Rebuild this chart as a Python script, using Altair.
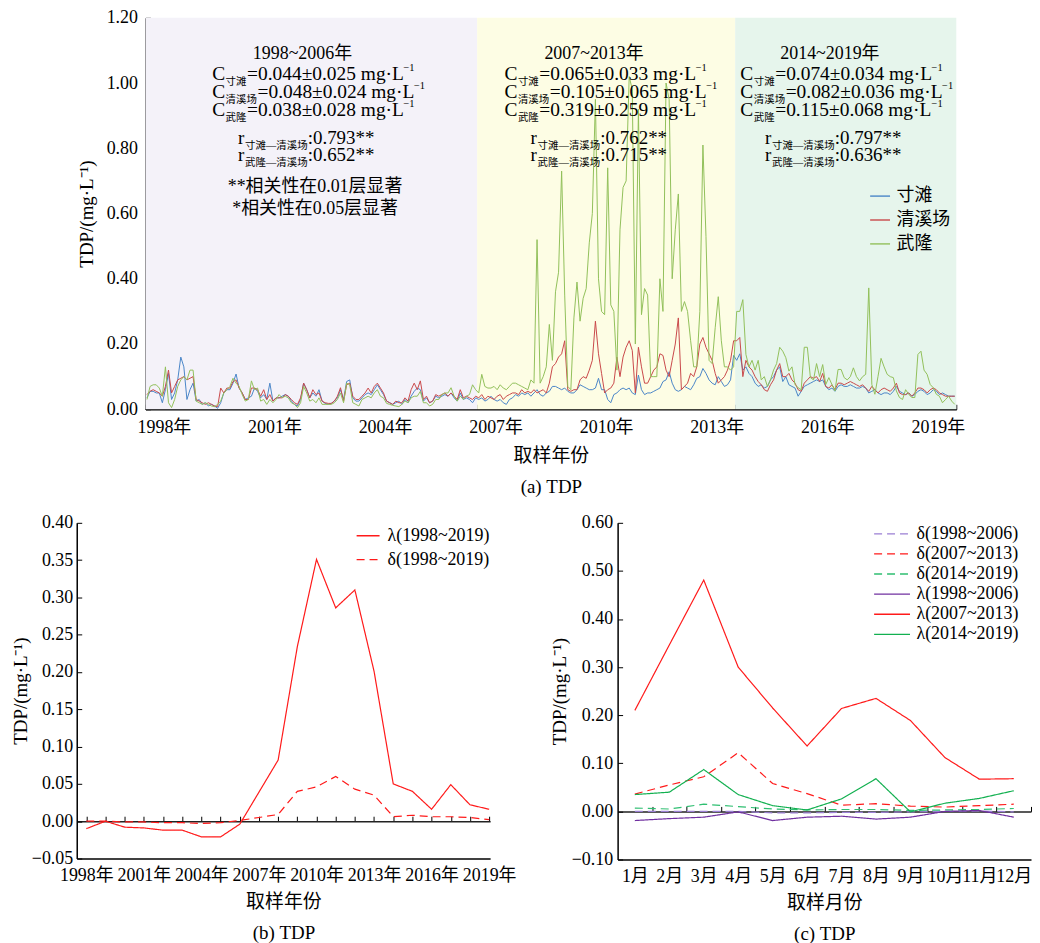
import altair as alt
import pandas as pd

FONT = "Liberation Serif, Noto Sans CJK SC"

# ---------------- panel (a) data ----------------
years = list(range(1998, 2020))
months = list(range(1, 13))
sites = ["寸滩", "清溪场", "武隆"]
site_colors = ["#4a86c8", "#c9484a", "#92c05a"]

cuntan = [
    0.035, 0.055, 0.055, 0.050, 0.050, 0.020, 0.060, 0.110, 0.030, 0.050, 0.090, 0.160,
    0.130, 0.030, 0.060, 0.080, 0.025, 0.030, 0.015, 0.020, 0.010, 0.015, 0.010, 0.003,
    0.020, 0.050, 0.060, 0.060, 0.080, 0.108, 0.065, 0.050, 0.030, 0.035, 0.040, 0.065,
    0.055, 0.035, 0.045, 0.030, 0.080, 0.025, 0.035, 0.035, 0.040, 0.045, 0.040, 0.025,
    0.015, 0.010, 0.030, 0.080, 0.060, 0.035, 0.050, 0.040, 0.060, 0.025, 0.018, 0.015,
    0.018, 0.025, 0.035, 0.060, 0.030, 0.085, 0.090, 0.035, 0.025, 0.025, 0.035, 0.045,
    0.050, 0.045, 0.060, 0.075, 0.060, 0.045, 0.025, 0.020, 0.015, 0.020, 0.025, 0.015,
    0.030, 0.020, 0.040, 0.055, 0.065, 0.060, 0.025, 0.035, 0.020, 0.025, 0.040, 0.035,
    0.040, 0.045, 0.040, 0.050, 0.035, 0.025, 0.050, 0.030, 0.035, 0.030, 0.020, 0.035,
    0.030, 0.035, 0.025, 0.030, 0.040, 0.030, 0.025, 0.030, 0.020, 0.015, 0.030, 0.035,
    0.045, 0.040, 0.050, 0.045, 0.050, 0.040, 0.050, 0.060, 0.045, 0.040, 0.050, 0.055,
    0.070, 0.070, 0.065, 0.060, 0.065, 0.055, 0.050, 0.050, 0.060, 0.075, 0.070, 0.065,
    0.060, 0.060, 0.065, 0.095, 0.060, 0.060, 0.030, 0.020, 0.045, 0.050, 0.060, 0.065,
    0.060, 0.065, 0.050, 0.045, 0.105, 0.060, 0.045, 0.050, 0.050, 0.055, 0.060, 0.065,
    0.085, 0.090, 0.115, 0.080, 0.060, 0.055, 0.060, 0.070, 0.065, 0.060, 0.075, 0.095,
    0.100, 0.125, 0.110, 0.090, 0.080, 0.075, 0.100, 0.085, 0.070, 0.075, 0.090, 0.165,
    0.150, 0.170, 0.120, 0.130, 0.110, 0.100, 0.080, 0.070, 0.075, 0.065, 0.070, 0.090,
    0.100, 0.120, 0.130, 0.085, 0.100, 0.075, 0.070, 0.065, 0.040, 0.055, 0.070, 0.075,
    0.080, 0.085, 0.090, 0.085, 0.090, 0.070, 0.060, 0.065, 0.055, 0.070, 0.075, 0.070,
    0.070, 0.075, 0.070, 0.065, 0.065, 0.070, 0.065, 0.050, 0.055, 0.060, 0.050, 0.045,
    0.050, 0.050, 0.045, 0.055, 0.070, 0.055, 0.050, 0.045, 0.050, 0.040, 0.045, 0.055,
    0.060, 0.055, 0.045, 0.050, 0.060, 0.055, 0.045, 0.050, 0.045, 0.040, 0.040, 0.040,
]
qingxichang = [
    0.045, 0.055, 0.060, 0.055, 0.050, 0.040, 0.070, 0.120, 0.050, 0.070, 0.090, 0.095,
    0.100, 0.090, 0.095, 0.100, 0.030, 0.025, 0.020, 0.015, 0.020, 0.015, 0.010, 0.008,
    0.065, 0.050, 0.065, 0.065, 0.085, 0.090, 0.065, 0.050, 0.030, 0.030, 0.065, 0.065,
    0.060, 0.040, 0.060, 0.030, 0.045, 0.025, 0.035, 0.035, 0.035, 0.045, 0.040, 0.030,
    0.020, 0.015, 0.035, 0.080, 0.060, 0.035, 0.060, 0.045, 0.050, 0.025, 0.020, 0.018,
    0.018, 0.025, 0.040, 0.066, 0.025, 0.075, 0.080, 0.040, 0.030, 0.030, 0.040, 0.050,
    0.065, 0.050, 0.070, 0.080, 0.065, 0.050, 0.025, 0.020, 0.015, 0.025, 0.020, 0.020,
    0.035, 0.025, 0.060, 0.080, 0.060, 0.087, 0.030, 0.040, 0.020, 0.025, 0.045, 0.040,
    0.045, 0.050, 0.040, 0.050, 0.040, 0.030, 0.060, 0.035, 0.040, 0.035, 0.030, 0.040,
    0.035, 0.045, 0.030, 0.040, 0.035, 0.030, 0.040, 0.045, 0.030, 0.040, 0.045, 0.050,
    0.050, 0.045, 0.060, 0.050, 0.055, 0.050, 0.060, 0.050, 0.055, 0.060, 0.050, 0.080,
    0.130, 0.140, 0.160, 0.170, 0.210, 0.060, 0.055, 0.060, 0.060, 0.090, 0.100, 0.095,
    0.120, 0.150, 0.270, 0.170, 0.110, 0.050, 0.060, 0.065, 0.080, 0.160, 0.100, 0.160,
    0.190, 0.210, 0.180, 0.050, 0.190, 0.130, 0.080, 0.080, 0.100, 0.120, 0.130, 0.170,
    0.165, 0.120, 0.100, 0.150, 0.200, 0.280, 0.060, 0.070, 0.080, 0.110, 0.100, 0.130,
    0.200, 0.220, 0.190, 0.170, 0.150, 0.110, 0.080, 0.090, 0.100, 0.120, 0.150, 0.210,
    0.210, 0.220, 0.100, 0.150, 0.130, 0.120, 0.100, 0.085, 0.075, 0.060, 0.055, 0.075,
    0.090, 0.120, 0.140, 0.100, 0.100, 0.110, 0.090, 0.080, 0.060, 0.055, 0.080, 0.090,
    0.100, 0.095, 0.100, 0.085, 0.110, 0.070, 0.065, 0.075, 0.060, 0.080, 0.080, 0.075,
    0.080, 0.085, 0.080, 0.075, 0.070, 0.075, 0.065, 0.055, 0.070, 0.060, 0.050, 0.060,
    0.065, 0.060, 0.055, 0.065, 0.080, 0.050, 0.045, 0.045, 0.050, 0.040, 0.050, 0.065,
    0.065, 0.060, 0.050, 0.060, 0.065, 0.060, 0.050, 0.045, 0.040, 0.040, 0.040, 0.040,
]
wulong = [
    0.030, 0.070, 0.075, 0.075, 0.065, 0.040, 0.130, 0.020, 0.005, 0.030, 0.070, 0.090,
    0.100, 0.090, 0.120, 0.120, 0.025, 0.020, 0.015, 0.020, 0.015, 0.010, 0.008, 0.015,
    0.025, 0.050, 0.060, 0.070, 0.095, 0.080, 0.070, 0.045, 0.025, 0.030, 0.087, 0.060,
    0.065, 0.025, 0.030, 0.015, 0.030, 0.020, 0.030, 0.045, 0.035, 0.040, 0.035, 0.020,
    0.015, 0.005, 0.020, 0.070, 0.050, 0.025, 0.030, 0.020, 0.035, 0.015, 0.015, 0.015,
    0.015, 0.020, 0.030, 0.050, 0.020, 0.080, 0.075, 0.020, 0.015, 0.010, 0.030, 0.035,
    0.040, 0.035, 0.050, 0.060, 0.040, 0.035, 0.018, 0.015, 0.012, 0.010, 0.008, 0.015,
    0.025, 0.020, 0.035, 0.040, 0.040, 0.055, 0.020, 0.020, 0.010, 0.015, 0.030, 0.030,
    0.045, 0.050, 0.050, 0.066, 0.040, 0.025, 0.040, 0.030, 0.040, 0.045, 0.075, 0.060,
    0.050, 0.107, 0.070, 0.065, 0.065, 0.070, 0.060, 0.075, 0.065, 0.060, 0.070, 0.080,
    0.080, 0.075, 0.070, 0.065, 0.060, 0.090, 0.080, 0.520, 0.080, 0.100, 0.130, 0.260,
    0.150, 0.360, 0.420, 0.730, 0.350, 0.070, 0.060, 0.280, 0.390, 0.270, 0.340, 0.370,
    0.510, 0.600, 0.950, 0.400, 0.300, 0.290, 0.740, 0.320, 0.300, 0.120, 0.550, 0.680,
    0.700, 1.020, 0.980, 0.200, 0.920, 0.290, 0.370, 0.350, 0.100, 0.100, 0.100, 0.400,
    0.300, 1.000, 0.950, 0.400, 0.550, 0.660, 0.300, 0.330, 0.300, 0.210, 0.130, 0.130,
    0.300, 0.810, 0.530, 0.150, 0.140, 0.250, 0.345, 0.210, 0.130, 0.130, 0.120, 0.130,
    0.300, 0.300, 0.336, 0.168, 0.130, 0.150, 0.120, 0.150, 0.090, 0.100, 0.070, 0.090,
    0.120, 0.140, 0.190, 0.178, 0.158, 0.117, 0.130, 0.076, 0.066, 0.060, 0.190, 0.190,
    0.097, 0.090, 0.140, 0.100, 0.137, 0.076, 0.097, 0.076, 0.056, 0.122, 0.122, 0.097,
    0.090, 0.100, 0.127, 0.100, 0.087, 0.100, 0.107, 0.372, 0.076, 0.046, 0.100, 0.156,
    0.130, 0.107, 0.100, 0.097, 0.056, 0.036, 0.030, 0.060, 0.046, 0.036, 0.036, 0.168,
    0.178, 0.120, 0.107, 0.076, 0.066, 0.046, 0.040, 0.020, 0.030, 0.040, 0.025, 0.015,
]

periods = ["1998~2006年", "2007~2013年", "2014~2019年"]
period_start = [1998, 2007, 2014]
period_end = [2007, 2014, 2020]
period_colors = ["#f4f2f9", "#fdfde4", "#e6f5ec"]

title_x = [2002.26, 2010.17, 2016.57]
c_left = [1999.81, 2007.74, 2014.14]
r_left = [2000.51, 2008.45, 2014.81]
c_cuntan = ["0.044±0.025", "0.065±0.033", "0.074±0.034"]
c_qxc = ["0.048±0.024", "0.105±0.065", "0.082±0.036"]
c_wulong = ["0.038±0.028", "0.319±0.259", "0.115±0.068"]
r_cq = ["0.793**", "0.762**", "0.797**"]
r_wq = ["0.652**", "0.715**", "0.636**"]
sig_notes = ["**相关性在0.01层显著", "*相关性在0.05层显著"]
sig_x = [2002.6, 2002.6]
sig_y = [0.667, 0.600]

label_years = [1998, 2001, 2004, 2007, 2010, 2013, 2016, 2019]
tick_years = list(range(1998, 2021))
y_ticks_a = [0.0, 0.2, 0.4, 0.6, 0.8, 1.0, 1.2]

# ---------------- panel (b) data ----------------
series_b = ["λ(1998~2019)", "δ(1998~2019)"]
lam_b = [-0.010, 0.000, -0.008, -0.009, -0.012, -0.012, -0.021, -0.021, -0.004, 0.039, 0.082,
         0.234, 0.351, 0.286, 0.310, 0.201, 0.050, 0.040, 0.016, 0.049, 0.022, 0.016]
del_b = [0.000, 0.000, -0.001, -0.001, -0.002, -0.002, -0.003, -0.002, 0.001, 0.005, 0.009,
         0.040, 0.046, 0.060, 0.043, 0.035, 0.006, 0.008, 0.006, 0.006, 0.005, 0.002]
y_ticks_b = [-0.05, 0.0, 0.05, 0.10, 0.15, 0.20, 0.25, 0.30, 0.35, 0.40]

# ---------------- panel (c) data ----------------
series_c = ["δ(1998~2006)", "δ(2007~2013)", "δ(2014~2019)",
            "λ(1998~2006)", "λ(2007~2013)", "λ(2014~2019)"]
colors_c = ["#9b7fd4", "#ff1a1a", "#2fbf71", "#7030a0", "#ff1a1a", "#12b050"]
dashes_c = [[8, 5], [8, 5], [8, 5], [1, 0], [1, 0], [1, 0]]
d_9806 = [0.000, 0.000, 0.000, 0.000, -0.003, -0.003, -0.002, -0.002, -0.001, 0.000, 0.001, -0.001]
d_0713 = [0.036, 0.055, 0.072, 0.122, 0.058, 0.037, 0.013, 0.016, 0.011, 0.009, 0.012, 0.015]
d_1419 = [0.007, 0.005, 0.015, 0.010, 0.005, 0.003, 0.004, 0.004, 0.002, 0.003, 0.004, 0.006]
l_9806 = [-0.019, -0.015, -0.012, -0.001, -0.019, -0.012, -0.010, -0.016, -0.012, 0.000, 0.002, -0.012]
l_0713 = [0.210, 0.346, 0.481, 0.300, 0.215, 0.136, 0.214, 0.235, 0.189, 0.112, 0.067, 0.068]
l_1419 = [0.035, 0.040, 0.087, 0.035, 0.012, 0.003, 0.026, 0.068, -0.001, 0.017, 0.027, 0.043]
y_ticks_c = [-0.10, 0.0, 0.10, 0.20, 0.30, 0.40, 0.50, 0.60]
month_ticks = [m + 0.5 for m in months]

# ---------------- tables ----------------
rows = []
for s, vals in zip(sites, [cuntan, qingxichang, wulong]):
    for i, v in enumerate(vals):
        rows.append({"site": s, "t": years[i // 12] + (months[i % 12] - 0.5) / 12, "v": v})
df_a = pd.DataFrame(rows)
df_per = pd.DataFrame({"period": periods, "start": period_start, "end": period_end})
df_ann = pd.DataFrame({"title": periods, "title_x": title_x, "c_x": c_left, "r_x": r_left,
                       "c1": ["=" + s + " mg·L" for s in c_cuntan],
                       "c2": ["=" + s + " mg·L" for s in c_qxc],
                       "c3": ["=" + s + " mg·L" for s in c_wulong],
                       "r1": [":" + s for s in r_cq], "r2": [":" + s for s in r_wq]})
df_sig = pd.DataFrame({"text": sig_notes, "x": sig_x, "y": sig_y})

df_b = pd.DataFrame(
    [{"year": y, "v": v, "series": series_b[0]} for y, v in zip(years, lam_b)] +
    [{"year": y, "v": v, "series": series_b[1]} for y, v in zip(years, del_b)])

rows = []
for s, vals in zip(series_c, [d_9806, d_0713, d_1419, l_9806, l_0713, l_1419]):
    for m, v in zip(months, vals):
        rows.append({"month": m, "v": v, "series": s})
df_c = pd.DataFrame(rows)
df_one = pd.DataFrame({"k": [0]})

AX = dict(labelFont=FONT, titleFont=FONT, labelFontSize=18, titleFontSize=19,
          titleFontWeight="normal", labelColor="black", titleColor="black",
          domainColor="black", tickColor="black", grid=False, labelFlush=False)


def tick_axis(orient, offset, values):
    return alt.Axis(orient=orient, offset=offset, values=values, labels=False, domain=False,
                    ticks=True, tickSize=5, tickColor="black", grid=False, title=None)


def anchor(px, py):
    # invisible layout anchor (keeps the panels spaced like the reference)
    return alt.Chart(df_one).mark_point(opacity=0, size=1).encode(
        x=alt.value(px), y=alt.value(py))


# ---------------- panel (a) ----------------
W_A, H_A = 814, 393
SHIFT_A = 69
xa = alt.Scale(domain=[1998, 2020], nice=False, zero=False)
ya = alt.Scale(domain=[0, 1.2], nice=False, zero=False)

bg = alt.Chart(df_per).mark_rect().encode(
    x=alt.X("start:Q", scale=xa, axis=None), x2="end:Q",
    fill=alt.Fill("period:N", scale=alt.Scale(domain=periods, range=period_colors), legend=None))

lines_a = alt.Chart(df_a).mark_line(strokeWidth=1, clip=True).encode(
    x=alt.X("t:Q", scale=xa, axis=alt.Axis(
        values=[y + 0.5 for y in label_years], labelExpr="floor(datum.value) + '年'",
        ticks=False, tickSize=0, labelPadding=9, labelOverlap=False, domainWidth=1.5,
        title=["取样年份", "(a) TDP"], titleLineHeight=32, titlePadding=10, **AX)),
    y=alt.Y("v:Q", scale=ya, axis=alt.Axis(
        values=y_ticks_a, format=".2f", ticks=False, tickSize=0, labelPadding=8,
        domainWidth=1.5, title="TDP/(mg·L⁻¹)", titlePadding=10, **AX)),
    color=alt.Color("site:N", scale=alt.Scale(domain=sites, range=site_colors),
                    legend=alt.Legend(title=None, orient="none", legendX=SHIFT_A + 727.5,
                                      legendY=169, symbolType="M-1.11,0L1.11,0",
                                      symbolSize=324, symbolStrokeWidth=1.4, labelFontSize=18,
                                      labelFont=FONT, labelColor="black", labelOffset=6.5,
                                      rowPadding=5, padding=0)))

ticks_a = alt.Chart(df_a).mark_point(opacity=0).encode(
    x=alt.X("t:Q", scale=xa, axis=tick_axis("top", -H_A, tick_years)),
    y=alt.Y("v:Q", scale=ya, axis=tick_axis("right", -W_A, y_ticks_a)))


def ann(xcol, yv, size, dx=0, dy=0, textcol=None, const=None, align="left"):
    mk = dict(align=align, baseline="alphabetic", fontSize=size, dx=dx, dy=dy,
              font=FONT, color="black")
    if const is not None:
        mk["text"] = const
    enc = dict(x=alt.X(f"{xcol}:Q", scale=xa, axis=None), y=alt.YDatum(yv, axis=None))
    if textcol is not None:
        enc["text"] = alt.Text(f"{textcol}:N")
    return alt.Chart(df_ann).mark_text(**mk).encode(**enc)


texts = [ann("title_x", 1.073, 18, textcol="title", align="center")]
c_rows = [(1.009, "寸滩", "c1", 35), (0.954, "清溪场", "c2", 45.5), (0.899, "武隆", "c3", 35)]
for yv, sub, col, rdx in c_rows:
    texts.append(ann("c_x", yv, 19.5, const="C"))
    texts.append(ann("c_x", yv, 10.5, dx=13.5, dy=5, const=sub))
    texts.append(ann("c_x", yv, 19.5, dx=rdx, textcol=col))
    texts.append(ann("c_x", yv, 10.5, dx=rdx + 157, dy=-9, const="−1"))
r_rows = [(0.813, "寸滩—清溪场", "r1"), (0.761, "武隆—清溪场", "r2")]
for yv, sub, col in r_rows:
    texts.append(ann("r_x", yv, 19, const="r"))
    texts.append(ann("r_x", yv, 10.5, dx=7, dy=5, const=sub))
    texts.append(ann("r_x", yv, 19, dx=70, textcol=col))
texts.append(alt.Chart(df_sig).mark_text(align="center", baseline="alphabetic", fontSize=18,
                                         font=FONT, color="black").encode(
    x=alt.X("x:Q", scale=xa, axis=None), y=alt.Y("y:Q", scale=ya, axis=None), text="text:N"))

panel_a = alt.layer(bg, lines_a, ticks_a, *texts, anchor(0, H_A + 98)).properties(
    width=W_A, height=H_A).resolve_axis(x="independent", y="independent")

# ---------------- panel (b) ----------------
W_B, H_B = 415, 337
xb = alt.Scale(domain=[1997.5, 2019.05], nice=False, zero=False)
yb = alt.Scale(domain=[-0.05, 0.40], nice=False, zero=False)
leg_b = alt.Legend(title=None, orient="none", legendX=282.5, legendY=3,
                   symbolType="M-1.28,0L1.28,0", symbolSize=324, symbolStrokeWidth=1.3,
                   labelFontSize=18, labelFont=FONT, labelColor="black", labelOffset=9.5,
                   rowPadding=5, padding=0)
lines_b = alt.Chart(df_b).mark_line(strokeWidth=1.2).encode(
    x=alt.X("year:Q", scale=xb, axis=alt.Axis(
        values=label_years, labelExpr="datum.value + '年'", ticks=False, tickSize=0,
        labelPadding=8, labelOverlap=False, domainWidth=1.5,
        title=["取样年份", "(b) TDP"], titleLineHeight=31, titlePadding=8, **AX)),
    y=alt.Y("v:Q", scale=yb, axis=alt.Axis(
        values=y_ticks_b, format=".2f", ticks=False, tickSize=0, labelPadding=4,
        domainWidth=1.5, title="TDP/(mg·L⁻¹)", titlePadding=1, **AX)),
    color=alt.Color("series:N", scale=alt.Scale(domain=series_b, range=["#ff1a1a", "#ff1a1a"]),
                    legend=leg_b),
    strokeDash=alt.StrokeDash("series:N", scale=alt.Scale(domain=series_b, range=[[1, 0], [8, 5]]),
                              legend=leg_b))
ticks_b = alt.Chart(df_b).mark_point(opacity=0).encode(
    x=alt.X("year:Q", scale=xb, axis=alt.Axis(
        orient="top", offset=-H_B * 0.40 / 0.45, values=years, labels=False, domain=True,
        domainColor="#222", domainWidth=1.5, ticks=True, tickSize=5, tickColor="black",
        grid=False, title=None)),
    y=alt.Y("v:Q", scale=yb, axis=tick_axis("right", -W_B, y_ticks_b)))
panel_b = alt.layer(lines_b, ticks_b, anchor(-68, -14)).properties(
    width=W_B, height=H_B).resolve_axis(x="independent", y="independent")

# ---------------- panel (c) ----------------
W_C, H_C = 415, 338
xc = alt.Scale(domain=[0.5, 12.5], nice=False, zero=False)
yc = alt.Scale(domain=[-0.10, 0.60], nice=False, zero=False)
leg_c = alt.Legend(title=None, orient="none", legendX=265.5, legendY=1,
                   symbolType="M-2,0L2,0", symbolSize=324, symbolStrokeWidth=1.3,
                   labelFontSize=18, labelFont=FONT, labelColor="black", labelOffset=14.5,
                   rowPadding=1.2, padding=0)
lines_c = alt.Chart(df_c).mark_line(strokeWidth=1.2).encode(
    x=alt.X("month:Q", scale=xc, axis=alt.Axis(
        values=months, labelExpr="datum.value + '月'", ticks=False, tickSize=0,
        labelPadding=8, labelOverlap=False, domainWidth=1.5,
        title=["取样月份", "(c) TDP"], titleLineHeight=31, titlePadding=8, **AX)),
    y=alt.Y("v:Q", scale=yc, axis=alt.Axis(
        values=y_ticks_c, format=".2f", ticks=False, tickSize=0, labelPadding=5,
        domainWidth=1.5, title="TDP/(mg·L⁻¹)", titlePadding=2, **AX)),
    color=alt.Color("series:N", scale=alt.Scale(domain=series_c, range=colors_c), legend=leg_c),
    strokeDash=alt.StrokeDash("series:N", scale=alt.Scale(domain=series_c, range=dashes_c),
                              legend=leg_c))
ticks_c = alt.Chart(df_c).mark_point(opacity=0).encode(
    x=alt.X("month:Q", scale=xc, axis=alt.Axis(
        orient="top", offset=-H_C * 0.60 / 0.70, values=month_ticks, labels=False, domain=True,
        domainColor="#222", domainWidth=1.5, ticks=True, tickSize=5, tickColor="black",
        grid=False, title=None)),
    y=alt.Y("v:Q", scale=yc, axis=tick_axis("right", -W_C, y_ticks_c)))
panel_c = alt.layer(lines_c, ticks_c).properties(width=W_C, height=H_C).resolve_axis(
    x="independent", y="independent")

# ---------------- layout ----------------
spacer = alt.Chart(df_one).mark_point(opacity=0, size=1).encode(
    x=alt.value(0), y=alt.value(0)).properties(width=SHIFT_A, height=H_A)
row1 = alt.hconcat(spacer, panel_a, spacing=0, bounds="flush")
row2 = alt.hconcat(panel_b, panel_c, spacing=128, bounds="flush").resolve_scale(
    color="independent", strokeDash="independent")
chart = alt.vconcat(row1, row2, spacing=0).resolve_scale(
    color="independent", strokeDash="independent", fill="independent").properties(
    padding={"left": 0, "top": -1, "right": 0, "bottom": 0}).configure(
    font=FONT).configure_view(stroke=None)

chart.save("out.html", embed_options={"renderer": "svg", "actions": False})
